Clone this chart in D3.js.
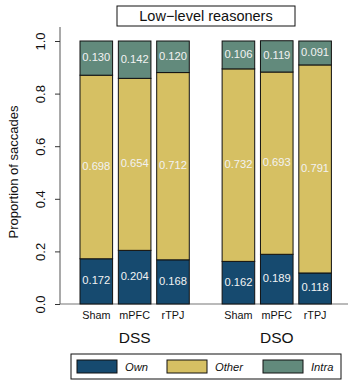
<!DOCTYPE html>
<html><head><meta charset="utf-8">
<script src="https://cdn.jsdelivr.net/npm/d3@7"></script>
<style>body{margin:0;background:#fff}svg{display:block;font-family:"Liberation Sans",Arial,sans-serif}</style>
</head><body>
<script>
const groups = ["DSS", "DSO"];
const conditions = ["Sham", "mPFC", "rTPJ"];
const series = ["Own", "Other", "Intra"];
const own   = [0.172, 0.204, 0.168, 0.162, 0.189, 0.118];
const other = [0.698, 0.654, 0.712, 0.732, 0.693, 0.791];
const intra = [0.130, 0.142, 0.120, 0.106, 0.119, 0.091];
const yTicks = [0, 0.2, 0.4, 0.6, 0.8, 1.0];
const colors = ["#164a6f", "#d6c063", "#628a7c"];
const title = "Low\u2212level reasoners";

const W = 348, H = 381;
const svg = d3.select("body").append("svg").attr("width", W).attr("height", H);

const y = d3.scaleLinear().domain([0, 1]).range([304, 41]);
const xg = d3.scaleBand().domain(groups).range([80, 331.4]).paddingInner(0.231).paddingOuter(0);
const xc = d3.scaleBand().domain(conditions).range([0, xg.bandwidth()]).paddingInner(0.15).paddingOuter(0);

const rows = [];
groups.forEach((g, gi) => conditions.forEach((c, ci) => {
  const i = gi * conditions.length + ci;
  rows.push({g, c, Own: own[i], Other: other[i], Intra: intra[i]});
}));
const stack = d3.stack().keys(series)(rows);

// axes lines
svg.append("line").attr("x1", 60).attr("x2", 60).attr("y1", 27).attr("y2", y(0))
  .attr("stroke", "#555").attr("stroke-width", 1);
svg.append("line").attr("x1", 60).attr("x2", 348).attr("y1", y(0)).attr("y2", y(0))
  .attr("stroke", "#777").attr("stroke-width", 1.2);

const yAxis = svg.append("g").attr("transform", "translate(60,0)")
  .call(d3.axisLeft(y).tickValues(yTicks).tickSize(5).tickFormat(d3.format(".1f")));
yAxis.select(".domain").remove();
yAxis.selectAll(".tick line").attr("stroke", "#333");
yAxis.selectAll(".tick text")
  .attr("font-size", 13).attr("fill", "#111")
  .attr("x", null).attr("dy", null)
  .attr("text-anchor", "middle")
  .attr("transform", "translate(-18,0) rotate(-90)")
  .attr("dominant-baseline", "middle");

svg.append("text").attr("transform", "translate(15,172) rotate(-90)")
  .attr("text-anchor", "middle").attr("dominant-baseline", "middle")
  .attr("font-size", 13).attr("fill", "#111").text("Proportion of saccades");

// bars
stack.forEach((layer, si) => {
  svg.append("g").selectAll("rect").data(layer).join("rect")
    .attr("x", d => xg(d.data.g) + xc(d.data.c))
    .attr("width", xc.bandwidth())
    .attr("y", d => y(d[1]))
    .attr("height", d => y(d[0]) - y(d[1]))
    .attr("fill", colors[si]).attr("stroke", "#111").attr("stroke-width", 1);
  svg.append("g").selectAll("text").data(layer).join("text")
    .attr("x", d => xg(d.data.g) + xc(d.data.c) + xc.bandwidth() / 2)
    .attr("y", d => y((d[0] + d[1]) / 2))
    .attr("text-anchor", "middle").attr("dominant-baseline", "middle")
    .attr("font-size", 11.2).attr("fill", "#f2f2f2")
    .text(d => d3.format(".3f")(d[1] - d[0]));
});

// x labels
rows.forEach(r => {
  svg.append("text").attr("x", xg(r.g) + xc(r.c) + xc.bandwidth() / 2).attr("y", 319)
    .attr("text-anchor", "middle").attr("font-size", 10.8).attr("fill", "#111").text(r.c);
});
groups.forEach(g => {
  svg.append("text").attr("x", xg(g) + xg.bandwidth() / 2).attr("y", 343)
    .attr("text-anchor", "middle").attr("font-size", 15.5).attr("fill", "#111").text(g);
});

// title
svg.append("rect").attr("x", 117).attr("y", 6).attr("width", 178).attr("height", 20)
  .attr("fill", "#fff").attr("stroke", "#111").attr("stroke-width", 1);
svg.append("text").attr("x", 206).attr("y", 21).attr("text-anchor", "middle")
  .attr("font-size", 14.5).attr("fill", "#111").text(title);

// legend
svg.append("rect").attr("x", 71).attr("y", 354).attr("width", 270).attr("height", 25)
  .attr("fill", "#fff").attr("stroke", "#111").attr("stroke-width", 1);
const lx = [77, 167, 263];
series.forEach((s, i) => {
  svg.append("rect").attr("x", lx[i]).attr("y", 360).attr("width", 40).attr("height", 13)
    .attr("fill", colors[i]).attr("stroke", "#111").attr("stroke-width", 1);
  svg.append("text").attr("x", lx[i] + 48).attr("y", 371).attr("font-size", 11.2)
    .attr("font-style", "italic").attr("fill", "#111").text(s);
});
</script>
</body></html>
